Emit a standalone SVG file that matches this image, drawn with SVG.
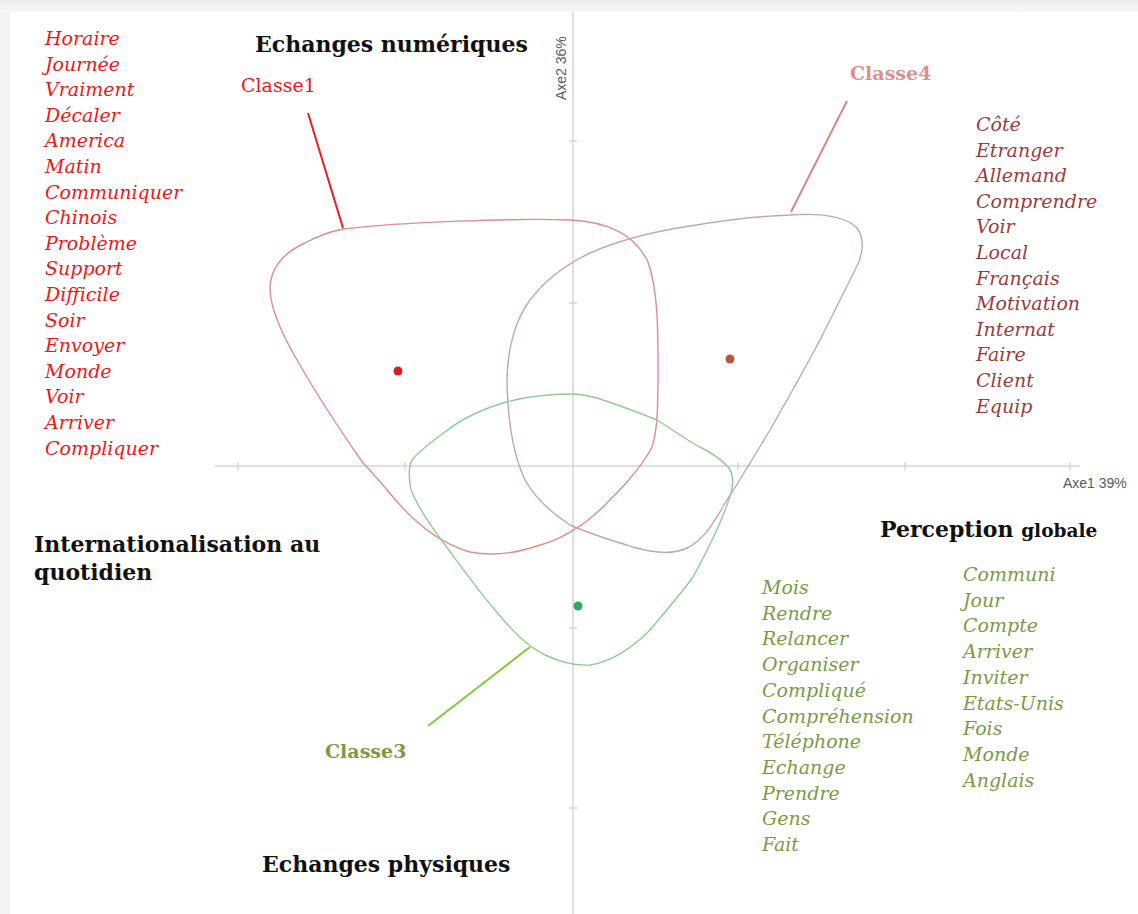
<svg xmlns="http://www.w3.org/2000/svg" width="1138" height="914" viewBox="0 0 1138 914">
<defs>
<linearGradient id="shTop" x1="0" y1="0" x2="0" y2="1"><stop offset="0" stop-color="#ececec"/><stop offset="1" stop-color="#f7f7f7"/></linearGradient>
<style>
.w{font-family:"DejaVu Serif","Liberation Serif",serif;font-style:italic;font-size:19px}
.r{fill:#f01616}
.b4{fill:#9b3b3b}
.g{fill:#7b9a44}
.t{font-family:"DejaVu Serif","Liberation Serif",serif;font-weight:bold;fill:#111;font-size:22px}
.ax{stroke:#d6d6d6;stroke-width:1.5;fill:none}
.c1{stroke:#e08c8c;stroke-width:1.4;fill:none}
.c4{stroke:#c9a3aa;stroke-width:1.4;fill:none}
.c3{stroke:#8fcc90;stroke-width:1.4;fill:none}
.axl{font-family:"Liberation Sans",Arial,sans-serif;font-size:14px;fill:#5a5a5a}
</style>
</defs>
<rect width="1138" height="914" fill="#f4f4f4"/>
<rect x="0" y="0" width="1138" height="12" fill="url(#shTop)"/>
<rect x="10" y="12" width="1128" height="902" fill="#fff"/>

<g id="axes">
<line class="ax" x1="573" y1="12" x2="573" y2="914"/>
<line class="ax" x1="215" y1="466" x2="1080" y2="466"/>
<path class="ax" d="M238 462v8M405 462v8M738 462v8M905 462v8M1070 462v8M569 141h8M569 303h8M569 628h8M569 808h8"/>
<text class="axl" transform="translate(566,100) rotate(-90)">Axe2  36%</text>
<text class="axl" x="1063" y="488">Axe1  39%</text>
</g>

<g id="classe1-shape">
<path class="c1" d="M343 229 C400 222 520 218 570 220 C610 222 635 235 648 262 C658 290 658 330 658 367 C658 400 658 430 652 447 C640 470 620 490 603 507 C585 525 560 540 540 545 C520 552 495 557 470 552 C445 545 420 527 400 505 C385 488 375 475 363 463 C340 430 320 400 300 365 C285 340 270 310 270 288 C271 266 285 252 305 243 C318 236 333 231 343 229 Z"/>
<circle cx="398" cy="371" r="4.5" fill="#d42020"/>
</g>

<g id="classe4-shape">
<path class="c4" d="M790 215 C820 213 845 216 857 228 C866 240 862 258 855 270 C845 290 835 310 825 330 C810 360 790 395 770 430 C755 455 740 480 727 500 C715 520 705 540 687 548 C670 556 650 552 633 547 C610 540 590 534 570 525 C550 512 535 498 525 480 C513 455 508 420 507 383 C507 350 515 320 530 300 C545 280 565 265 590 253 C615 242 650 232 690 226 C725 220 760 216 790 215 Z"/>
<circle cx="730" cy="359" r="4.5" fill="#b25a3a"/>
</g>

<g id="classe3-shape">
<path class="c3" d="M571 394 C545 394 520 398 503 403 C480 410 460 420 445 432 C430 443 418 452 412 460 C408 468 409 480 411 490 C417 505 430 525 445 545 C460 565 478 590 495 610 C510 628 525 645 545 655 C560 662 575 666 590 665 C610 662 630 650 650 630 C665 612 680 595 693 577 C705 555 718 530 727 505 C733 490 735 475 728 467 C720 458 710 452 700 447 C690 442 670 428 657 420 C640 413 615 404 600 399 C590 396 580 394 571 394 Z"/>
<circle cx="578" cy="606" r="4.5" fill="#2fa860"/>
</g>

<g id="connectors">
<line x1="308" y1="113" x2="343" y2="228" stroke="#ee1b1b" stroke-width="2"/>
<line x1="847" y1="101" x2="791" y2="212" stroke="#d48888" stroke-width="2"/>
<line x1="428" y1="726" x2="530" y2="647" stroke="#7ccc3c" stroke-width="2"/>
</g>

<g id="titles">
<text class="t" x="255" y="52">Echanges numériques</text>
<text class="t" x="34" y="552">Internationalisation au</text>
<text class="t" x="34" y="580">quotidien</text>
<text class="t" x="262" y="872">Echanges physiques</text>
<text class="t" x="880" y="537">Perception <tspan font-size="18.5">globale</tspan></text>
</g>

<g id="classe1">
<text class="w r" x="241" y="92" style="font-style:normal">Classe1</text>
<text class="w r">
<tspan x="45" y="45">Horaire</tspan>
<tspan x="45" y="70.6">Journée</tspan>
<tspan x="45" y="96.2">Vraiment</tspan>
<tspan x="45" y="121.8">Décaler</tspan>
<tspan x="45" y="147.4">America</tspan>
<tspan x="45" y="173">Matin</tspan>
<tspan x="45" y="198.6">Communiquer</tspan>
<tspan x="45" y="224.2">Chinois</tspan>
<tspan x="45" y="249.8">Problème</tspan>
<tspan x="45" y="275.4">Support</tspan>
<tspan x="45" y="301">Difficile</tspan>
<tspan x="45" y="326.6">Soir</tspan>
<tspan x="45" y="352.2">Envoyer</tspan>
<tspan x="45" y="377.8">Monde</tspan>
<tspan x="45" y="403.4">Voir</tspan>
<tspan x="45" y="429">Arriver</tspan>
<tspan x="45" y="454.6">Compliquer</tspan>
</text>
</g>

<g id="classe4">
<text class="t" x="850" y="80" style="fill:#d99090;font-size:19px">Classe4</text>
<text class="w b4">
<tspan x="976" y="131">Côté</tspan>
<tspan x="976" y="156.6">Etranger</tspan>
<tspan x="976" y="182.2">Allemand</tspan>
<tspan x="976" y="207.8">Comprendre</tspan>
<tspan x="976" y="233.4">Voir</tspan>
<tspan x="976" y="259">Local</tspan>
<tspan x="976" y="284.6">Français</tspan>
<tspan x="976" y="310.2">Motivation</tspan>
<tspan x="976" y="335.8">Internat</tspan>
<tspan x="976" y="361.4">Faire</tspan>
<tspan x="976" y="387">Client</tspan>
<tspan x="976" y="412.6">Equip</tspan>
</text>
</g>

<g id="classe3">
<text class="t" x="325" y="758" style="fill:#7b9a44;font-size:19px">Classe3</text>
<text class="w g">
<tspan x="762" y="594">Mois</tspan>
<tspan x="762" y="619.7">Rendre</tspan>
<tspan x="762" y="645.4">Relancer</tspan>
<tspan x="762" y="671.1">Organiser</tspan>
<tspan x="762" y="696.8">Compliqué</tspan>
<tspan x="762" y="722.5">Compréhension</tspan>
<tspan x="762" y="748.2">Téléphone</tspan>
<tspan x="762" y="773.9">Echange</tspan>
<tspan x="762" y="799.6">Prendre</tspan>
<tspan x="762" y="825.3">Gens</tspan>
<tspan x="762" y="851">Fait</tspan>
</text>
<text class="w g">
<tspan x="963" y="581">Communi</tspan>
<tspan x="963" y="606.7">Jour</tspan>
<tspan x="963" y="632.4">Compte</tspan>
<tspan x="963" y="658.1">Arriver</tspan>
<tspan x="963" y="683.8">Inviter</tspan>
<tspan x="963" y="709.5">Etats-Unis</tspan>
<tspan x="963" y="735.2">Fois</tspan>
<tspan x="963" y="760.9">Monde</tspan>
<tspan x="963" y="786.6">Anglais</tspan>
</text>
</g>
</svg>
